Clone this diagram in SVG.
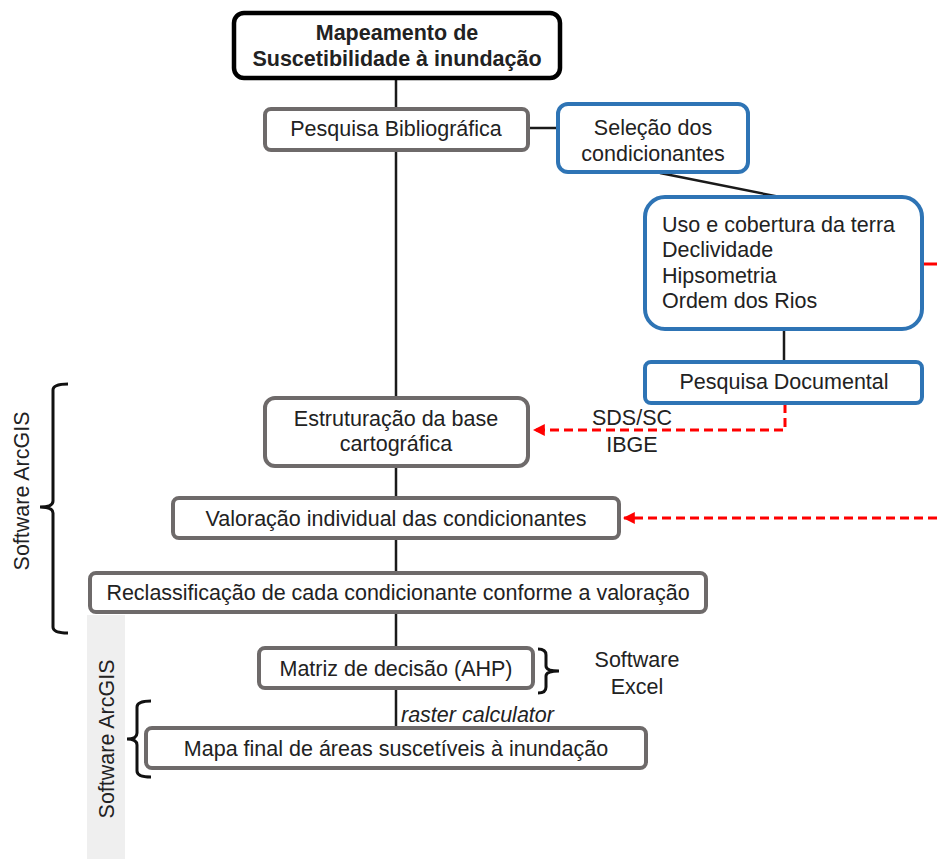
<svg xmlns="http://www.w3.org/2000/svg" width="937" height="859" viewBox="0 0 937 859">
<defs>
<style>
text{font-family:"Liberation Sans",Arial,sans-serif;font-size:21.5px;fill:#222;}
.c{text-anchor:middle;}
.g{fill:#fff;stroke:#6e6a6a;stroke-width:4;}
.b{fill:#fff;stroke:#2e74b5;stroke-width:4;}
.ln{stroke:#1a1a1a;stroke-width:2.5;fill:none;}
.rd{stroke:#ff0000;stroke-width:3;fill:none;stroke-dasharray:9,5;}
.br{stroke:#111;stroke-width:3;fill:none;}
</style>
<marker id="ah" viewBox="0 0 10 10" refX="9" refY="5" markerWidth="4" markerHeight="4" orient="auto"><path d="M0,0L10,5L0,10z" fill="#ff0000"/></marker>
</defs>
<rect width="937" height="859" fill="#fff"/>
<rect x="87" y="615" width="38" height="244" fill="#efefef"/>
<g id="connectors">
<line class="ln" x1="396" y1="78" x2="396" y2="730"/>
<line class="ln" x1="528" y1="128" x2="559" y2="128"/>
<line class="ln" x1="660" y1="173" x2="780" y2="197"/>
<line class="ln" x1="784" y1="329" x2="784" y2="362"/>
<polyline class="rd" points="785,404 785,430 534,430" marker-end="url(#ah)"/>
<line class="rd" x1="937" y1="518" x2="624" y2="518" marker-end="url(#ah)"/>
<line x1="922" y1="264" x2="937" y2="264" stroke="#ff0000" stroke-width="3"/>
</g>
<g id="n-top"><rect x="234" y="13" width="326" height="65" rx="10" fill="#fff" stroke="#000" stroke-width="4.5"/>
<text class="c" x="397" y="40" font-weight="bold">Mapeamento de</text>
<text class="c" x="397" y="66" font-weight="bold">Suscetibilidade à inundação</text></g>
<g id="n-biblio"><rect class="g" x="265" y="109" width="263" height="41" rx="6"/>
<text class="c" x="396" y="136">Pesquisa Bibliográfica</text></g>
<g id="n-selecao"><rect class="b" x="558" y="104" width="190" height="68" rx="10"/>
<text class="c" x="653" y="135">Seleção dos</text>
<text class="c" x="653" y="161">condicionantes</text></g>
<g id="n-uso"><rect class="b" x="645" y="197" width="277" height="132" rx="20"/>
<text x="662" y="232">Uso e cobertura da terra</text>
<text x="662" y="257">Declividade</text>
<text x="662" y="283">Hipsometria</text>
<text x="662" y="308">Ordem dos Rios</text></g>
<g id="n-doc"><rect class="b" x="645" y="362" width="277" height="41" rx="6"/>
<text class="c" x="784" y="389">Pesquisa Documental</text></g>
<text class="c" x="632" y="425">SDS/SC</text>
<text class="c" x="632" y="452">IBGE</text>
<g id="n-estrut"><rect class="g" x="265" y="398" width="263" height="68" rx="10"/>
<text class="c" x="396" y="426">Estruturação da base</text>
<text class="c" x="396" y="451">cartográfica</text></g>
<g id="n-valor"><rect class="g" x="173" y="498" width="446" height="40" rx="6"/>
<text class="c" x="396" y="526">Valoração individual das condicionantes</text></g>
<g id="n-reclass"><rect class="g" x="90" y="573" width="616" height="39" rx="6"/>
<text class="c" x="398" y="600">Reclassificação de cada condicionante conforme a valoração</text></g>
<g id="n-matriz"><rect class="g" x="259" y="648" width="274" height="40" rx="6"/>
<text class="c" x="396" y="676">Matriz de decisão (AHP)</text></g>
<g id="n-mapa"><rect class="g" x="146" y="728" width="500" height="40" rx="6"/>
<text class="c" x="396" y="756">Mapa final de áreas suscetíveis à inundação</text></g>
<text x="401" y="722" font-style="italic">raster calculator</text>
<text class="c" x="637" y="667">Software</text>
<text class="c" x="637" y="694">Excel</text>
<path class="br" d="M68,384 Q53,384 53,390 L53,501 Q53,507 40,507 Q53,507 53,513 L53,627 Q53,633 68,633"/>
<text class="c" transform="translate(29,491) rotate(-90)">Software ArcGIS</text>
<path class="br" d="M151,701 Q137,701 137,707 L137,733 Q137,739 127,739 Q137,739 137,745 L137,771 Q137,777 151,777"/>
<text class="c" transform="translate(114,739) rotate(-90)">Software ArcGIS</text>
<path class="br" d="M538,649 Q546,649 546,655 L546,666 Q546,671 559,671 Q546,671 546,676 L546,687 Q546,693 538,693"/>
</svg>
